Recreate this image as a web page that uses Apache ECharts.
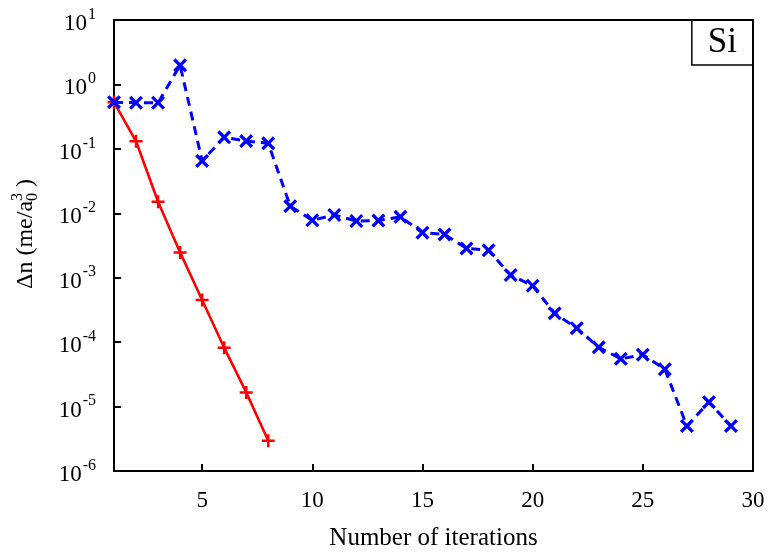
<!DOCTYPE html>
<html>
<head>
<meta charset="utf-8">
<script src="https://cdn.jsdelivr.net/npm/echarts@6/dist/echarts.min.js"></script>
<style>
  html, body { margin: 0; padding: 0; background: #fff; }
  #chart { width: 771px; height: 556px; }
</style>
</head>
<body>
<div id="chart"></div>
<script>
// Iteration counts and density residuals (Δn, me/a0^3) for Si
const iterRed = [1, 2, 3, 4, 5, 6, 7, 8];
const dnRed = [0.53, 0.131, 0.0151, 0.00247, 4.5e-4, 8.2e-5, 1.66e-5, 2.95e-6];

const iterBlue = [1, 2, 3, 4, 5, 6, 7, 8, 9, 10, 11, 12, 13, 14, 15,
                  16, 17, 18, 19, 20, 21, 22, 23, 24, 25, 26, 27, 28, 29];
const dnBlue = [0.53, 0.52, 0.52, 1.98, 0.065, 0.151, 0.132, 0.122, 0.0129, 0.0078,
                0.0094, 0.0076, 0.0077, 0.0088, 0.0050, 0.0047, 0.00285, 0.00266, 0.0011,
                7.5e-4, 2.8e-4, 1.65e-4, 8.3e-5, 5.5e-5, 6.4e-5, 3.8e-5, 5.0e-6, 1.17e-5, 5.0e-6];

const xTickValues = [5, 10, 15, 20, 25, 30];
const panelLabel = 'Si';

const SERIF = '"Liberation Serif", "DejaVu Serif", serif';

// Filled marker outlines: a plus and a diagonal cross
const plusPath = 'path://M5.25,0h2.5v5.25h5.25v2.5h-5.25v5.25h-2.5v-5.25h-5.25v-2.5h5.25z';
const crossPath = 'path://M0,2L2,0L6,4L10,0L12,2L8,6L12,10L10,12L6,8L2,12L0,10L4,6Z';

const chart = echarts.init(document.getElementById('chart'), null, { renderer: 'canvas' });

// Y axis title built from pieces so the sub/superscript can stack
function measure(text, size) {
  const c = document.createElement('canvas').getContext('2d');
  c.font = size + 'px ' + SERIF;
  return c.measureText(text).width;
}
const titleSize = 24, scriptSize = 16;
const mainText = 'Δn (me/a';
const tailText = ' )';
const wMain = measure(mainText, titleSize);
const wScript = measure('0', scriptSize);
const wTail = measure(tailText, titleSize);
const wTotal = wMain + wScript + wTail;
const x0 = -wTotal / 2;

const option = {
  animation: false,
  backgroundColor: '#fff',
  grid: {
    left: 114, right: 18, top: 20, bottom: 85,
    show: true, borderColor: '#000', borderWidth: 2, backgroundColor: 'transparent'
  },
  title: {
    text: panelLabel,
    right: 18, top: 20,
    padding: [5, 16, 4, 16],
    borderColor: '#000', borderWidth: 1.5,
    textStyle: { fontFamily: SERIF, fontSize: 35, fontWeight: 'normal', color: '#000', lineHeight: 36 }
  },
  xAxis: {
    type: 'value',
    min: 1, max: 30,
    name: 'Number of iterations',
    nameLocation: 'middle',
    nameGap: 55,
    nameTextStyle: { fontFamily: SERIF, fontSize: 25, color: '#000' },
    axisLine: { show: true, lineStyle: { color: '#000', width: 2 } },
    axisTick: { show: true, inside: true, length: 7, customValues: xTickValues,
                lineStyle: { color: '#000', width: 2 } },
    axisLabel: { customValues: xTickValues, margin: 18, fontFamily: SERIF, fontSize: 23, color: '#000' },
    splitLine: { show: false }
  },
  yAxis: {
    type: 'log',
    logBase: 10,
    min: 1e-6, max: 10,
    axisLine: { show: true, lineStyle: { color: '#000', width: 2 } },
    axisTick: { show: true, inside: true, length: 7, lineStyle: { color: '#000', width: 2 } },
    minorTick: { show: false },
    splitLine: { show: false },
    axisLabel: {
      margin: 18,
      formatter: function (v) {
        const e = Math.round(Math.log10(v));
        return '{b|10}{s|' + e + '}';
      },
      rich: {
        b: { fontFamily: SERIF, fontSize: 23, color: '#000', padding: [8, 0, 0, 0] },
        s: { fontFamily: SERIF, fontSize: 16, color: '#000', padding: [0, 0, 11, 1] }
      }
    }
  },
  graphic: [{
    type: 'group',
    x: 26, y: 234,
    rotation: Math.PI / 2,
    children: [
      { type: 'text', x: x0, y: 0,
        style: { text: mainText, font: titleSize + 'px ' + SERIF, fill: '#000', verticalAlign: 'middle', align: 'left' } },
      { type: 'text', x: x0 + wMain, y: -8,
        style: { text: '3', font: scriptSize + 'px ' + SERIF, fill: '#000', verticalAlign: 'middle', align: 'left' } },
      { type: 'text', x: x0 + wMain, y: 7,
        style: { text: '0', font: scriptSize + 'px ' + SERIF, fill: '#000', verticalAlign: 'middle', align: 'left' } },
      { type: 'text', x: x0 + wMain + wScript, y: 0,
        style: { text: tailText, font: titleSize + 'px ' + SERIF, fill: '#000', verticalAlign: 'middle', align: 'left' } }
    ]
  }],
  series: [
    {
      type: 'line',
      data: iterRed.map((x, i) => [x, dnRed[i]]),
      symbol: plusPath,
      symbolSize: 13,
      showAllSymbol: true,
      lineStyle: { color: '#ff0000', width: 2.6 },
      itemStyle: { color: '#ff0000' },
      z: 2
    },
    {
      type: 'line',
      data: iterBlue.map((x, i) => [x, dnBlue[i]]),
      symbol: crossPath,
      symbolSize: 14,
      showAllSymbol: true,
      lineStyle: { color: '#0000ff', width: 3, type: [9, 6] },
      itemStyle: { color: '#0000ff' },
      z: 3
    }
  ]
};

chart.setOption(option);
</script>
</body>
</html>
